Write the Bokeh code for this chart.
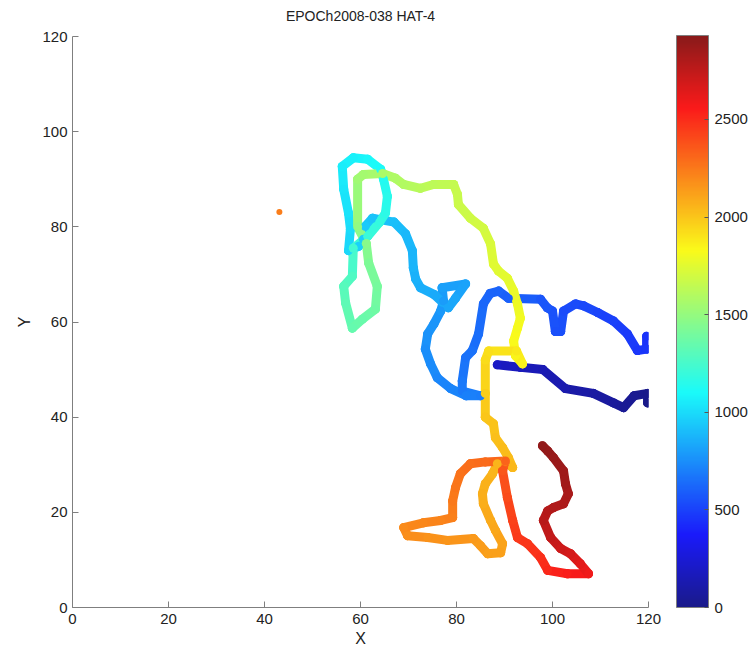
import numpy as np
from bokeh.plotting import figure
from bokeh.models import ColorBar, LinearColorMapper, FixedTicker, ColumnDataSource, Range1d, Title
from bokeh.transform import linear_cmap
from bokeh.embed import file_html
from bokeh.resources import INLINE

# ---- data ----
# first track (dark blue)
track1_x = [119.8, 119.8, 117.0, 114.8, 112.7, 108.5, 102.7, 98.0, 93.3, 88.5]
track1_y = [43.0, 45.0, 44.5, 42.0, 43.0, 45.0, 46.0, 50.0, 50.5, 51.0]
track1_t = [0, 10, 25, 45, 60, 85, 115, 145, 170, 195]

# main track
track2_x = [119.6, 119.6, 117.7, 115.6, 112.7, 109.4, 106.5, 104.8, 102.3, 101.7, 100.6, 100.0, 98.9, 97.5,
            90.8, 88.8, 87.0, 85.6, 84.6, 83.3, 81.9, 81.2, 81.2, 85.0, 82.0, 78.8, 76.0, 74.6, 73.5,
            74.0, 75.3, 76.7, 77.3, 77.0, 81.9, 79.8, 78.3, 75.3, 72.5, 71.5, 71.0, 70.8, 69.4, 67.0,
            62.5, 61.0, 60.6, 59.6, 57.5, 57.9, 57.5, 56.5, 56.2, 58.5, 61.5, 64.2, 64.8, 65.6, 65.2,
            64.0, 61.5, 58.5, 58.3, 56.5, 56.9, 58.3, 60.4, 63.1, 63.5, 61.7, 61.2, 59.4, 59.4, 60.6,
            64.6, 67.3, 69.0, 72.5, 75.2, 79.4, 80.2, 80.4, 82.9, 85.6, 87.1, 87.7, 88.75, 90.6, 91.9,
            92.7, 93.3, 92.7, 91.9, 92.3, 93.75, 92.5, 86.7, 86.0, 86.0, 86.0, 87.7, 88.1, 89.6, 90.8,
            91.7, 90.2, 88.5, 87.5, 86.0, 85.4, 85.6, 87.1, 88.1, 89.6, 89.2, 86.5, 85.0, 83.5, 78.1,
            74.0, 69.8, 69.0, 73.1, 76.7, 79.2, 79.2, 79.8, 80.8, 82.9, 86.0, 90.2, 89.6, 90.6, 91.7,
            92.7, 94.8, 97.5, 99.0, 103.1, 107.5, 105.8, 103.75, 101.7, 99.6, 98.1, 99.0, 100.2, 102.3,
            103.3, 102.7, 102.3, 100.2, 99.0, 97.9]
track2_y = [57.0, 54.3, 54.0, 57.5, 60.2, 62.0, 63.4, 63.8, 62.3, 58.0, 58.0, 62.3, 63.0, 64.8,
            65.0, 66.5, 66.0, 63.8, 57.5, 54.0, 52.5, 47.6, 45.5, 44.5, 44.5, 46.0, 48.3, 51.2, 54.3,
            57.5, 59.6, 62.3, 64.4, 67.2, 68.0, 65.0, 63.0, 65.8, 67.2, 69.0, 71.4, 75.0, 78.5, 81.0,
            81.8, 80.1, 77.4, 75.9, 75.0, 79.5, 82.9, 87.9, 92.7, 94.5, 94.2, 92.1, 90.0, 86.4, 82.9,
            81.0, 78.0, 75.5, 69.6, 67.5, 64.0, 58.7, 60.6, 62.7, 67.5, 72.4, 76.5, 80.0, 90.0, 91.0,
            91.2, 90.2, 88.9, 88.1, 88.9, 88.9, 86.8, 84.7, 81.8, 79.7, 76.4, 72.2, 70.7, 69.2, 66.5,
            63.8, 60.8, 58.7, 56.0, 52.9, 51.2, 53.9, 53.9, 52.0, 45.0, 40.0, 38.6, 35.7, 33.6, 31.5,
            29.4, 30.8, 30.2, 28.1, 26.0, 23.9, 21.8, 18.3, 16.2, 13.4, 11.5, 11.3, 13.0, 14.5, 14.1,
            14.7, 15.1, 16.8, 17.8, 18.3, 18.9, 22.4, 25.2, 28.1, 30.2, 30.6, 30.8, 28.7, 23.1, 18.3,
            14.7, 13.4, 10.5, 7.8, 7.1, 7.1, 9.2, 11.3, 12.4, 14.7, 18.3, 20.3, 21.0, 21.8,
            23.9, 26.0, 28.7, 31.5, 32.9, 34.0]
track2_t = [450, 458, 465, 480, 495, 510, 522, 528, 535, 545, 548, 558, 563, 570,
            600, 610, 616, 624, 642, 654, 662, 676, 683, 695, 705, 715, 727, 738, 750,
            762, 772, 782, 792, 802, 818, 828, 835, 846, 855, 862, 870, 880, 892, 905,
            925, 942, 955, 965, 985, 1005, 1020, 1040, 1060, 1075, 1090, 1110, 1125, 1145, 1165,
            1185, 1205, 1230, 1280, 1300, 1320, 1345, 1360, 1380, 1405, 1430, 1455, 1490, 1540, 1552,
            1572, 1587, 1600, 1620, 1635, 1655, 1665, 1672, 1690, 1705, 1720, 1740, 1750, 1762, 1775,
            1788, 1805, 1818, 1830, 1845, 1858, 1885, 1915, 1930, 1975, 2000, 2008, 2018, 2026, 2032,
            2038, 2044, 2050, 2058, 2066, 2074, 2082, 2094, 2102, 2112, 2120, 2128, 2136, 2144, 2160,
            2172, 2185, 2192, 2205, 2218, 2230, 2245, 2258, 2272, 2285, 2300, 2318, 2365, 2400, 2430,
            2455, 2470, 2495, 2515, 2545, 2590, 2640, 2680, 2710, 2740, 2770, 2785, 2795, 2810,
            2825, 2845, 2860, 2880, 2890, 2900]

# stray point
stray_x = [43.1]
stray_y = [83.1]
stray_t = [2240]

x_ticks = [0, 20, 40, 60, 80, 100, 120]
y_ticks = [0, 20, 40, 60, 80, 100, 120]
cbar_ticks = [0, 500, 1000, 1500, 2000, 2500]
t_max = 2930
title_text = "EPOCh2008-038 HAT-4"

# ---- jet palette (slightly softened) ----
def jet_palette(n=256, soften=0.12):
    cols = []
    for i in range(n):
        f = i / (n - 1)
        r = min(max(1.5 - abs(4 * f - 3), 0), 1)
        g = min(max(1.5 - abs(4 * f - 2), 0), 1)
        b = min(max(1.5 - abs(4 * f - 1), 0), 1)
        r, g, b = [(1 - soften) * c + soften * 0.85 for c in (r, g, b)]
        cols.append("#%02x%02x%02x" % (int(r * 255), int(g * 255), int(b * 255)))
    return cols

JET = jet_palette()
mapper = LinearColorMapper(palette=JET, low=0, high=t_max)

FONT = "Liberation Sans"
p = figure(width=753, height=649, output_backend="svg", toolbar_location=None,
           x_range=Range1d(0, 120), y_range=Range1d(0, 120),
           min_border_left=72, min_border_top=35, min_border_bottom=42, min_border_right=105)
p.title = None
spacer = Title(text=" ", text_font_size="6px", text_font=FONT, standoff=0)
main_title = Title(text=title_text, align="center", text_font=FONT, text_font_style="normal",
                   text_font_size="14px", text_color="#222222")
p.add_layout(spacer, "above")
p.add_layout(main_title, "above")
p.grid.visible = False
p.outline_line_color = None
p.background_fill_color = "white"

for ax, ticks, lab in ((p.xaxis[0], x_ticks, "X"), (p.yaxis[0], y_ticks, "Y")):
    ax.ticker = FixedTicker(ticks=ticks)
    ax.axis_label = lab
    ax.axis_label_text_font = FONT
    ax.axis_label_text_font_style = "normal"
    ax.axis_label_text_font_size = "16px"
    ax.axis_label_text_color = "#222222"
    ax.major_label_text_font = FONT
    ax.major_label_text_font_size = "15px"
    ax.major_label_text_color = "#222222"
    ax.axis_line_color = "#7f7f7f"
    ax.major_tick_line_color = "#7f7f7f"
    ax.major_tick_in = 6
    ax.major_tick_out = 0
    ax.minor_tick_line_color = None
p.xaxis.major_label_standoff = 6
p.xaxis.axis_label_standoff = 3
p.yaxis.axis_label_standoff = 6

def draw_track(xs, ys, ts):
    xs = np.array(xs, float); ys = np.array(ys, float); ts = np.array(ts, float)
    seg = ColumnDataSource(dict(x0=xs[:-1], y0=ys[:-1], x1=xs[1:], y1=ys[1:],
                                tm=(ts[:-1] + ts[1:]) / 2))
    p.segment("x0", "y0", "x1", "y1", source=seg, line_width=9, line_cap="round",
              line_join="round", line_color=linear_cmap("tm", JET, 0, t_max))
    pts = ColumnDataSource(dict(x=xs, y=ys, t=ts))
    p.scatter("x", "y", source=pts, size=9, line_color=None,
              fill_color=linear_cmap("t", JET, 0, t_max))

draw_track(track1_x, track1_y, track1_t)
draw_track(track2_x, track2_y, track2_t)
stray_src = ColumnDataSource(dict(x=stray_x, y=stray_y, t=stray_t))
p.scatter("x", "y", source=stray_src, size=6, line_color=None,
          fill_color=linear_cmap("t", JET, 0, t_max))

cb = ColorBar(color_mapper=mapper, ticker=FixedTicker(ticks=cbar_ticks),
              width=32, height=572, location=(28, 0), padding=0, margin=0,
              major_label_text_font=FONT, major_label_text_font_size="15px",
              major_label_text_color="#222222",
              major_tick_line_color="#555555", major_tick_in=4, major_tick_out=0,
              bar_line_color="#7f7f7f", border_line_color=None,
              background_fill_color=None, label_standoff=6)
p.add_layout(cb, "right")

open("out.html", "w").write(file_html(p, INLINE))
